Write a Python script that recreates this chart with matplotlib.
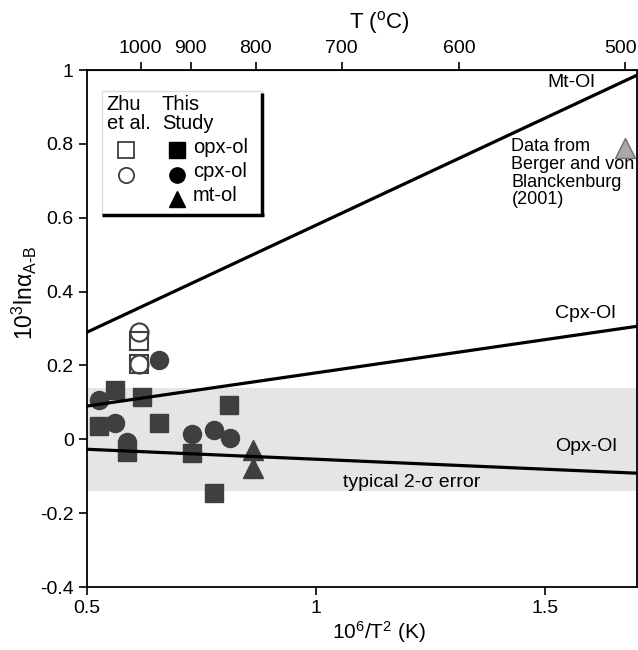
import numpy as np
import matplotlib
matplotlib.use('Agg')
import matplotlib.pyplot as plt
from matplotlib.patches import Rectangle
from matplotlib.transforms import ScaledTranslation

plt.rcParams['font.family'] = ['Liberation Sans', 'DejaVu Sans']
plt.rcParams['mathtext.fontset'] = 'custom'
plt.rcParams['mathtext.rm'] = 'Liberation Sans'
plt.rcParams['mathtext.it'] = 'Liberation Sans:italic'
plt.rcParams['axes.unicode_minus'] = False

# Zhu et al. (open symbols)
zhu_opx_x = [0.614, 0.614]
zhu_opx_y = [0.267, 0.205]
zhu_cpx_x = [0.614, 0.614]
zhu_cpx_y = [0.290, 0.205]

# This study (filled symbols)
opx_x = [0.561, 0.621, 0.809, 0.527, 0.657, 0.588, 0.730, 0.778]
opx_y = [0.134, 0.114, 0.094, 0.035, 0.044, -0.034, -0.036, -0.145]
cpx_x = [0.657, 0.527, 0.561, 0.588, 0.730, 0.778, 0.811]
cpx_y = [0.215, 0.107, 0.044, -0.007, 0.0135, 0.024, 0.0035]
mt_x = [0.862, 0.862]
mt_y = [-0.030, -0.079]

# Berger and von Blanckenburg (2001)
berger_x = [1.673]
berger_y = [0.79]

# calibration lines: 1000 ln(alpha) = A * 10^6/T^2
line_names = ['Mt-Ol', 'Cpx-Ol', 'Opx-Ol']
line_slopes = [0.58, 0.18, -0.054]
line_label_x = [1.609, 1.654, 1.656]
line_label_y = [0.965, 0.34, -0.02]

err_band = 0.14
top_ticks_C = [1000, 900, 800, 700, 600, 500]
x_ticks = [0.5, 1.0, 1.5]
x_ticklabels = ['0.5', '1', '1.5']
y_ticks = [-0.4, -0.2, 0, 0.2, 0.4, 0.6, 0.8, 1.0]
y_ticklabels = ['-0.4', '-0.2', '0', '0.2', '0.4', '0.6', '0.8', '1']

dark = '#3f3f3f'

fig = plt.figure(figsize=(6.38, 6.5), dpi=100)
ax = fig.add_axes([0.1364, 0.0969, 0.862, 0.7954])
ax.set_xlim(0.5, 1.7)
ax.set_ylim(-0.4, 1.0)

ax.axhspan(-err_band, err_band, color='#e5e5e5', lw=0, zorder=0)
ax.text(1.359, -0.116, 'typical 2-σ error', fontsize=14, va='center', ha='right')

ax.plot(opx_x, opx_y, 's', ms=13, color=dark, mec=dark, zorder=2)
ax.plot(cpx_x, cpx_y, 'o', ms=13, color=dark, mec=dark, zorder=2)
ax.plot(mt_x, mt_y, '^', ms=14, color=dark, mec=dark, zorder=2)
ax.plot(zhu_opx_x, zhu_opx_y, 's', ms=13, mfc='none', mec=dark, mew=1.5, zorder=2)
ax.plot(zhu_cpx_x, zhu_cpx_y, 'o', ms=13, mfc='none', mec=dark, mew=1.5, zorder=2)
ax.plot(berger_x, berger_y, '^', ms=15, color='#a8a8a8', mec='#707070', mew=1, zorder=2)

xs = np.array([0.5, 1.7])
for name, a, lx, ly in zip(line_names, line_slopes, line_label_x, line_label_y):
    ax.plot(xs, a * xs, color='black', lw=2.3, zorder=3)
    ax.text(lx, ly, name, fontsize=14, ha='right', va='center')

ax.text(1.426, 0.72, 'Data from\nBerger and von\nBlanckenburg\n(2001)',
        fontsize=13, ha='left', va='center', linespacing=1.05)

# legend box
ax.add_patch(Rectangle((0.027, 0.7195), 0.292, 0.2405, transform=ax.transAxes,
                       fill=False, ec='#dddddd', lw=1, zorder=4))
ax.plot([0.319, 0.319], [0.7195, 0.955], transform=ax.transAxes, color='black',
        lw=2.5, solid_capstyle='butt', zorder=5)
ax.plot([0.027, 0.321], [0.7195, 0.7195], transform=ax.transAxes, color='black',
        lw=2.5, solid_capstyle='butt', zorder=5)
ax.text(0.0358, 0.914, 'Zhu\net al.', transform=ax.transAxes, fontsize=14.5,
        ha='left', va='center', linespacing=1.0)
ax.text(0.136, 0.914, 'This\nStudy', transform=ax.transAxes, fontsize=14.5,
        ha='left', va='center', linespacing=1.0)
ax.plot([0.0704], [0.845], 's', ms=11, mfc='none', mec=dark, mew=1.3, transform=ax.transAxes)
ax.plot([0.0704], [0.797], 'o', ms=11, mfc='none', mec=dark, mew=1.3, transform=ax.transAxes)
ax.plot([0.163], [0.845], 's', ms=11, color='black', transform=ax.transAxes)
ax.plot([0.163], [0.797], 'o', ms=11, color='black', transform=ax.transAxes)
ax.plot([0.163], [0.750], '^', ms=12, color='black', transform=ax.transAxes)
for lab, yy in zip(['opx-ol', 'cpx-ol', 'mt-ol'], [0.851, 0.803, 0.757]):
    ax.text(0.193, yy, lab, transform=ax.transAxes, fontsize=14.5, ha='left', va='center')

ax.set_xticks(x_ticks)
ax.set_xticklabels(x_ticklabels)
ax.set_yticks(y_ticks)
ax.set_yticklabels(y_ticklabels)
ax.tick_params(direction='out', length=6, width=1.2, labelsize=14)
for sp in ax.spines.values():
    sp.set_linewidth(1.3)

ax.set_xlabel('10$^{6}$/T$^{2}$ (K)', fontsize=15)
ax.xaxis.set_label_coords(0.531, -0.062)
ax.set_ylabel('10$^{3}$lnα$_{\\rm A\\text{-}B}$', fontsize=16.5)
ax.yaxis.set_label_coords(-0.087, 0.569)


def x_to_T(x):
    x = np.asarray(x, dtype=float)
    return 1000.0 / np.sqrt(np.clip(x, 1e-6, None)) - 273.15


def T_to_x(t):
    t = np.asarray(t, dtype=float)
    return 1e6 / np.clip(t + 273.15, 1e-3, None) ** 2


sec = ax.secondary_xaxis('top', functions=(x_to_T, T_to_x))
sec.set_xticks(top_ticks_C)
sec.set_xticklabels([str(t) for t in top_ticks_C])
sec.tick_params(direction='out', length=6, width=1.2, labelsize=14)
ax.text(0.531, 1.091, 'T ($^{\\rm o}$C)', transform=ax.transAxes, fontsize=16,
        ha='center', va='center')

# keep the last top tick label inside the canvas
last = sec.get_xticklabels()[-1]
last.set_transform(last.get_transform() + ScaledTranslation(-3 / 72, 0, fig.dpi_scale_trans))

fig.savefig('out.png', dpi=100)
